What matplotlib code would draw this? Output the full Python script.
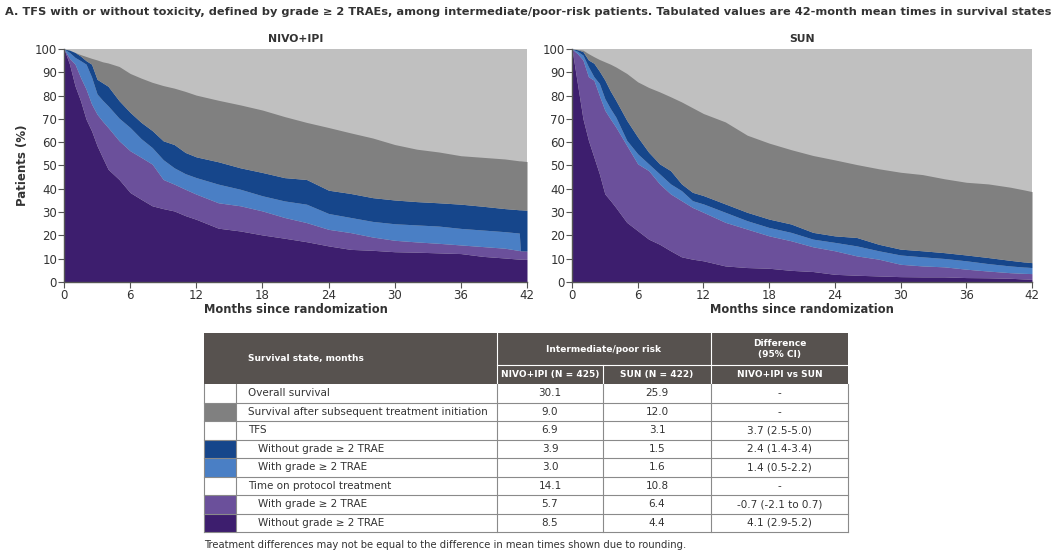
import numpy as np
import matplotlib
matplotlib.use("Agg")
import matplotlib.pyplot as plt
from matplotlib.patches import Rectangle

# months grid shared by both panels
months = [0, 0.5, 1, 1.5, 2, 2.5, 3, 3.5, 4, 5, 6, 7, 8, 9, 10, 11, 12, 14, 16, 18,
          20, 22, 24, 26, 28, 30, 32, 34, 36, 38, 40, 41.3, 41.4, 42]

# NIVO+IPI: cumulative tops of each stacked state (%)
nivo_os = [100, 99.5, 98.5, 97.6, 96.8, 96, 95.3, 94.5, 94, 92.5, 89.5, 87.5, 85.7, 84.3, 83.2, 81.8, 80.2, 78, 76, 73.8,
           71, 68.5, 66.3, 64, 61.8, 59, 57, 55.8, 54.2, 53.5, 52.8, 52.0, 52.0, 51.7]
nivo_tfs_notox = [100, 99.5, 98.5, 97, 95, 93.5, 87, 85.5, 84, 77.8, 72.8, 68.5, 65, 60.6, 59, 55.6, 53.7, 51.6, 49, 47,
                  44.8, 44, 39.4, 38, 36.2, 35.2, 34.5, 34, 33.4, 32.5, 31.5, 31, 31, 30.8]
nivo_tfs_tox = [100, 98.5, 96.4, 95, 93.5, 88, 80.7, 78, 75.6, 70.3, 66.3, 61.5, 57.7, 52.5, 49, 46.5, 44.8, 42, 39.8, 37,
                34.8, 33.4, 29.4, 27.7, 26, 25, 24.5, 24, 23, 22.3, 21.6, 21.0, 13.4, 13.3]
nivo_tx_tox = [100, 96, 93.5, 87.8, 82.8, 76.4, 72, 69, 66.3, 60.6, 56.3, 53.5, 50.6, 44, 42, 39.8, 37.7, 34, 32.7, 30.5,
               27.7, 25.5, 22.6, 21.2, 19.3, 17.9, 17.2, 16.6, 15.9, 15.2, 14.5, 13.5, 13.4, 13.3]
nivo_tx_notox = [100, 93.5, 84.2, 77.8, 69.9, 64.9, 58.5, 53.4, 48.4, 44, 38.4, 35.5, 32.7, 31.5, 30.5, 28.5, 26.9, 23.1, 21.9, 20.2,
                 18.8, 17.3, 15.5, 14, 13.6, 13, 12.8, 12.5, 12.2, 11, 10.3, 9.8, 9.8, 9.7]

# SUN
sun_os = [100, 99.8, 99.5, 98, 96.7, 95.5, 94.5, 93.5, 92.3, 89.5, 85.9, 83.5, 81.6, 79.5, 77.3, 74.8, 72.3, 68.7, 63, 59.6,
          56.8, 54.3, 52.4, 50.4, 48.6, 47.1, 46.1, 44.3, 42.8, 42.1, 40.7, 39.5, 39.4, 38.8]
sun_tfs_notox = [100, 99.7, 98.9, 95.3, 93.9, 90.5, 86.7, 82, 78, 69.4, 62.2, 55.7, 50.7, 47.8, 42.1, 38.5, 37.1, 33.5, 29.9, 27,
                 24.9, 21.3, 19.8, 19.1, 16.2, 14.1, 13.4, 12.6, 11.6, 10.5, 9.3, 8.6, 8.6, 8.3]
sun_tfs_tox = [100, 99, 97.4, 92.4, 88.1, 85.2, 78.7, 74.5, 70.8, 60.8, 55, 50.7, 46.4, 42.1, 39.2, 34.9, 33.5, 29.9, 26.3, 23.4,
               21.3, 18.4, 17, 15.5, 13.4, 11.6, 10.8, 10.1, 9.1, 7.9, 6.9, 6.4, 6.4, 6.2]
sun_tx_tox = [100, 98, 95.3, 88.1, 86.6, 80, 73.7, 70, 66.5, 58.6, 50.7, 47.8, 42.1, 37.8, 34.9, 32, 29.9, 25.6, 22.7, 19.8,
              17.7, 15.1, 13.4, 11.2, 9.8, 7.6, 6.9, 6.5, 5.5, 4.7, 4, 3.7, 3.7, 3.6]
sun_tx_notox = [100, 85, 70.1, 60.8, 53.6, 46.4, 37.8, 35, 32, 25.6, 22, 18.4, 16.2, 13.4, 10.8, 9.8, 9.1, 6.9, 6.2, 5.9,
                5, 4.5, 3.3, 2.9, 2.6, 2.3, 2.2, 2.2, 1.9, 1.8, 1.6, 1.3, 1.3, 1.1]

# table
row_labels = ["Overall survival", "Survival after subsequent treatment initiation", "TFS",
              "Without grade \u2265 2 TRAE", "With grade \u2265 2 TRAE", "Time on protocol treatment",
              "With grade \u2265 2 TRAE", "Without grade \u2265 2 TRAE"]
row_indent = [0, 0, 0, 1, 1, 0, 1, 1]
nivo_mean = ["30.1", "9.0", "6.9", "3.9", "3.0", "14.1", "5.7", "8.5"]
sun_mean = ["25.9", "12.0", "3.1", "1.5", "1.6", "10.8", "6.4", "4.4"]
diff_ci = ["-", "-", "3.7 (2.5-5.0)", "2.4 (1.4-3.4)", "1.4 (0.5-2.2)", "-", "-0.7 (-2.1 to 0.7)", "4.1 (2.9-5.2)"]

C_BG = "#c0c0c0"
C_SUBSEQ = "#808080"
C_TFS_NOTOX = "#16468b"
C_TFS_TOX = "#4a7fc5"
C_TX_TOX = "#6b509b"
C_TX_NOTOX = "#3d1e6e"
swatches = ["white", C_SUBSEQ, "white", C_TFS_NOTOX, C_TFS_TOX, "white", C_TX_TOX, C_TX_NOTOX]

plt.rcParams['font.family'] = 'DejaVu Sans'
W, H = 1060, 556
fig = plt.figure(figsize=(W / 100, H / 100), dpi=100)


def panel(rect, title, os_, tfs_n, tfs_t, tx_t, tx_n, ylabel=False):
    ax = fig.add_axes(rect)
    t = np.array(months)
    ax.set_facecolor(C_BG)
    ax.fill_between(t, 0, tx_n, color=C_TX_NOTOX, lw=0)
    ax.fill_between(t, tx_n, tx_t, color=C_TX_TOX, lw=0)
    ax.fill_between(t, tx_t, tfs_t, color=C_TFS_TOX, lw=0)
    ax.fill_between(t, tfs_t, tfs_n, color=C_TFS_NOTOX, lw=0)
    ax.fill_between(t, tfs_n, os_, color=C_SUBSEQ, lw=0)
    ax.set_xlim(0, 42)
    ax.set_ylim(0, 100)
    ax.set_xticks(range(0, 43, 6))
    ax.set_yticks(range(0, 101, 10))
    for s in ["top", "right"]:
        ax.spines[s].set_visible(False)
    for s in ["left", "bottom"]:
        ax.spines[s].set_color("#555555")
        ax.spines[s].set_linewidth(1.0)
    ax.tick_params(direction="out", length=4, width=0.8, color="#555555",
                   labelcolor="#333333", labelsize=8.5, pad=1)
    ax.set_xlabel("Months since randomization", fontsize=8.3, fontweight="bold",
                  color="#333333", labelpad=1)
    if ylabel:
        ax.set_ylabel("Patients (%)", fontsize=8.5, fontweight="bold", color="#333333", labelpad=4)
    ax.set_title(title, fontsize=7.8, fontweight="bold", color="#333333", pad=5)
    return ax


top, bot = 49, 282
panel([64 / W, 1 - bot / H, (527 - 64) / W, (bot - top) / H], "NIVO+IPI",
      nivo_os, nivo_tfs_notox, nivo_tfs_tox, nivo_tx_tox, nivo_tx_notox, ylabel=True)
panel([572 / W, 1 - bot / H, (1032 - 572) / W, (bot - top) / H], "SUN",
      sun_os, sun_tfs_notox, sun_tfs_tox, sun_tx_tox, sun_tx_notox)

fig.text(5 / W, 1 - 12 / H,
         "A. TFS with or without toxicity, defined by grade \u2265 2 TRAEs, among intermediate/poor-risk patients. "
         "Tabulated values are 42-month mean times in survival states",
         fontsize=8.2, fontweight="bold", color="#333333", va="center", ha="left")

# table drawn in pixel coordinates
tb = fig.add_axes([0, 0, 1, 1], zorder=-1)
tb.set_xlim(0, W)
tb.set_ylim(H, 0)
tb.axis("off")

x0, xs, xl, xn, xsun, xd = 204, 236, 497, 603, 711, 848
y0, ymid, yh = 333, 365, 384
rh = 18.5
hdr = "#57524f"
line = "#8a8a8a"
tb.add_patch(Rectangle((x0, y0), xd - x0, yh - y0, color=hdr, lw=0))
# header separators (white)
tb.plot([xl, xl], [y0, yh], color="white", lw=0.8)
tb.plot([xsun, xsun], [y0, yh], color="white", lw=0.8)
tb.plot([xn, xn], [ymid, yh], color="white", lw=0.8)
tb.plot([xl, xd], [ymid, ymid], color="white", lw=0.8)
hkw = dict(color="white", fontsize=6.5, fontweight="bold", va="center")
tb.text(248, (y0 + yh) / 2, "Survival state, months", ha="left", **hkw)
tb.text((xl + xsun) / 2, (y0 + ymid) / 2, "Intermediate/poor risk", ha="center", **hkw)
tb.text((xsun + xd) / 2, (y0 + ymid) / 2, "Difference\n(95% CI)", ha="center", linespacing=1.4, **hkw)
tb.text((xl + xn) / 2, (ymid + yh) / 2, "NIVO+IPI (N = 425)", ha="center", **hkw)
tb.text((xn + xsun) / 2, (ymid + yh) / 2, "SUN (N = 422)", ha="center", **hkw)
tb.text((xsun + xd) / 2, (ymid + yh) / 2, "NIVO+IPI vs SUN", ha="center", **hkw)

bkw = dict(color="#333333", fontsize=7.5, va="center")
for i, lab in enumerate(row_labels):
    ya = yh + i * rh
    yc = ya + rh / 2
    tb.add_patch(Rectangle((x0, ya), xs - x0, rh, facecolor=swatches[i], edgecolor="none"))
    tb.plot([x0, xd], [ya + rh, ya + rh], color=line, lw=0.8)
    tb.text(xs + 12 + 10 * row_indent[i], yc, lab, ha="left", **bkw)
    tb.text((xl + xn) / 2, yc, nivo_mean[i], ha="center", **bkw)
    tb.text((xn + xsun) / 2, yc, sun_mean[i], ha="center", **bkw)
    tb.text((xsun + xd) / 2, yc, diff_ci[i], ha="center", **bkw)
yb = yh + len(row_labels) * rh
for xv in [x0, xs, xl, xn, xsun, xd]:
    tb.plot([xv, xv], [yh, yb], color=line, lw=0.8)
tb.text(x0, 545, "Treatment differences may not be equal to the difference in mean times shown due to rounding.",
        ha="left", color="#333333", fontsize=7.2, va="center")

fig.savefig("out.png", dpi=100)
